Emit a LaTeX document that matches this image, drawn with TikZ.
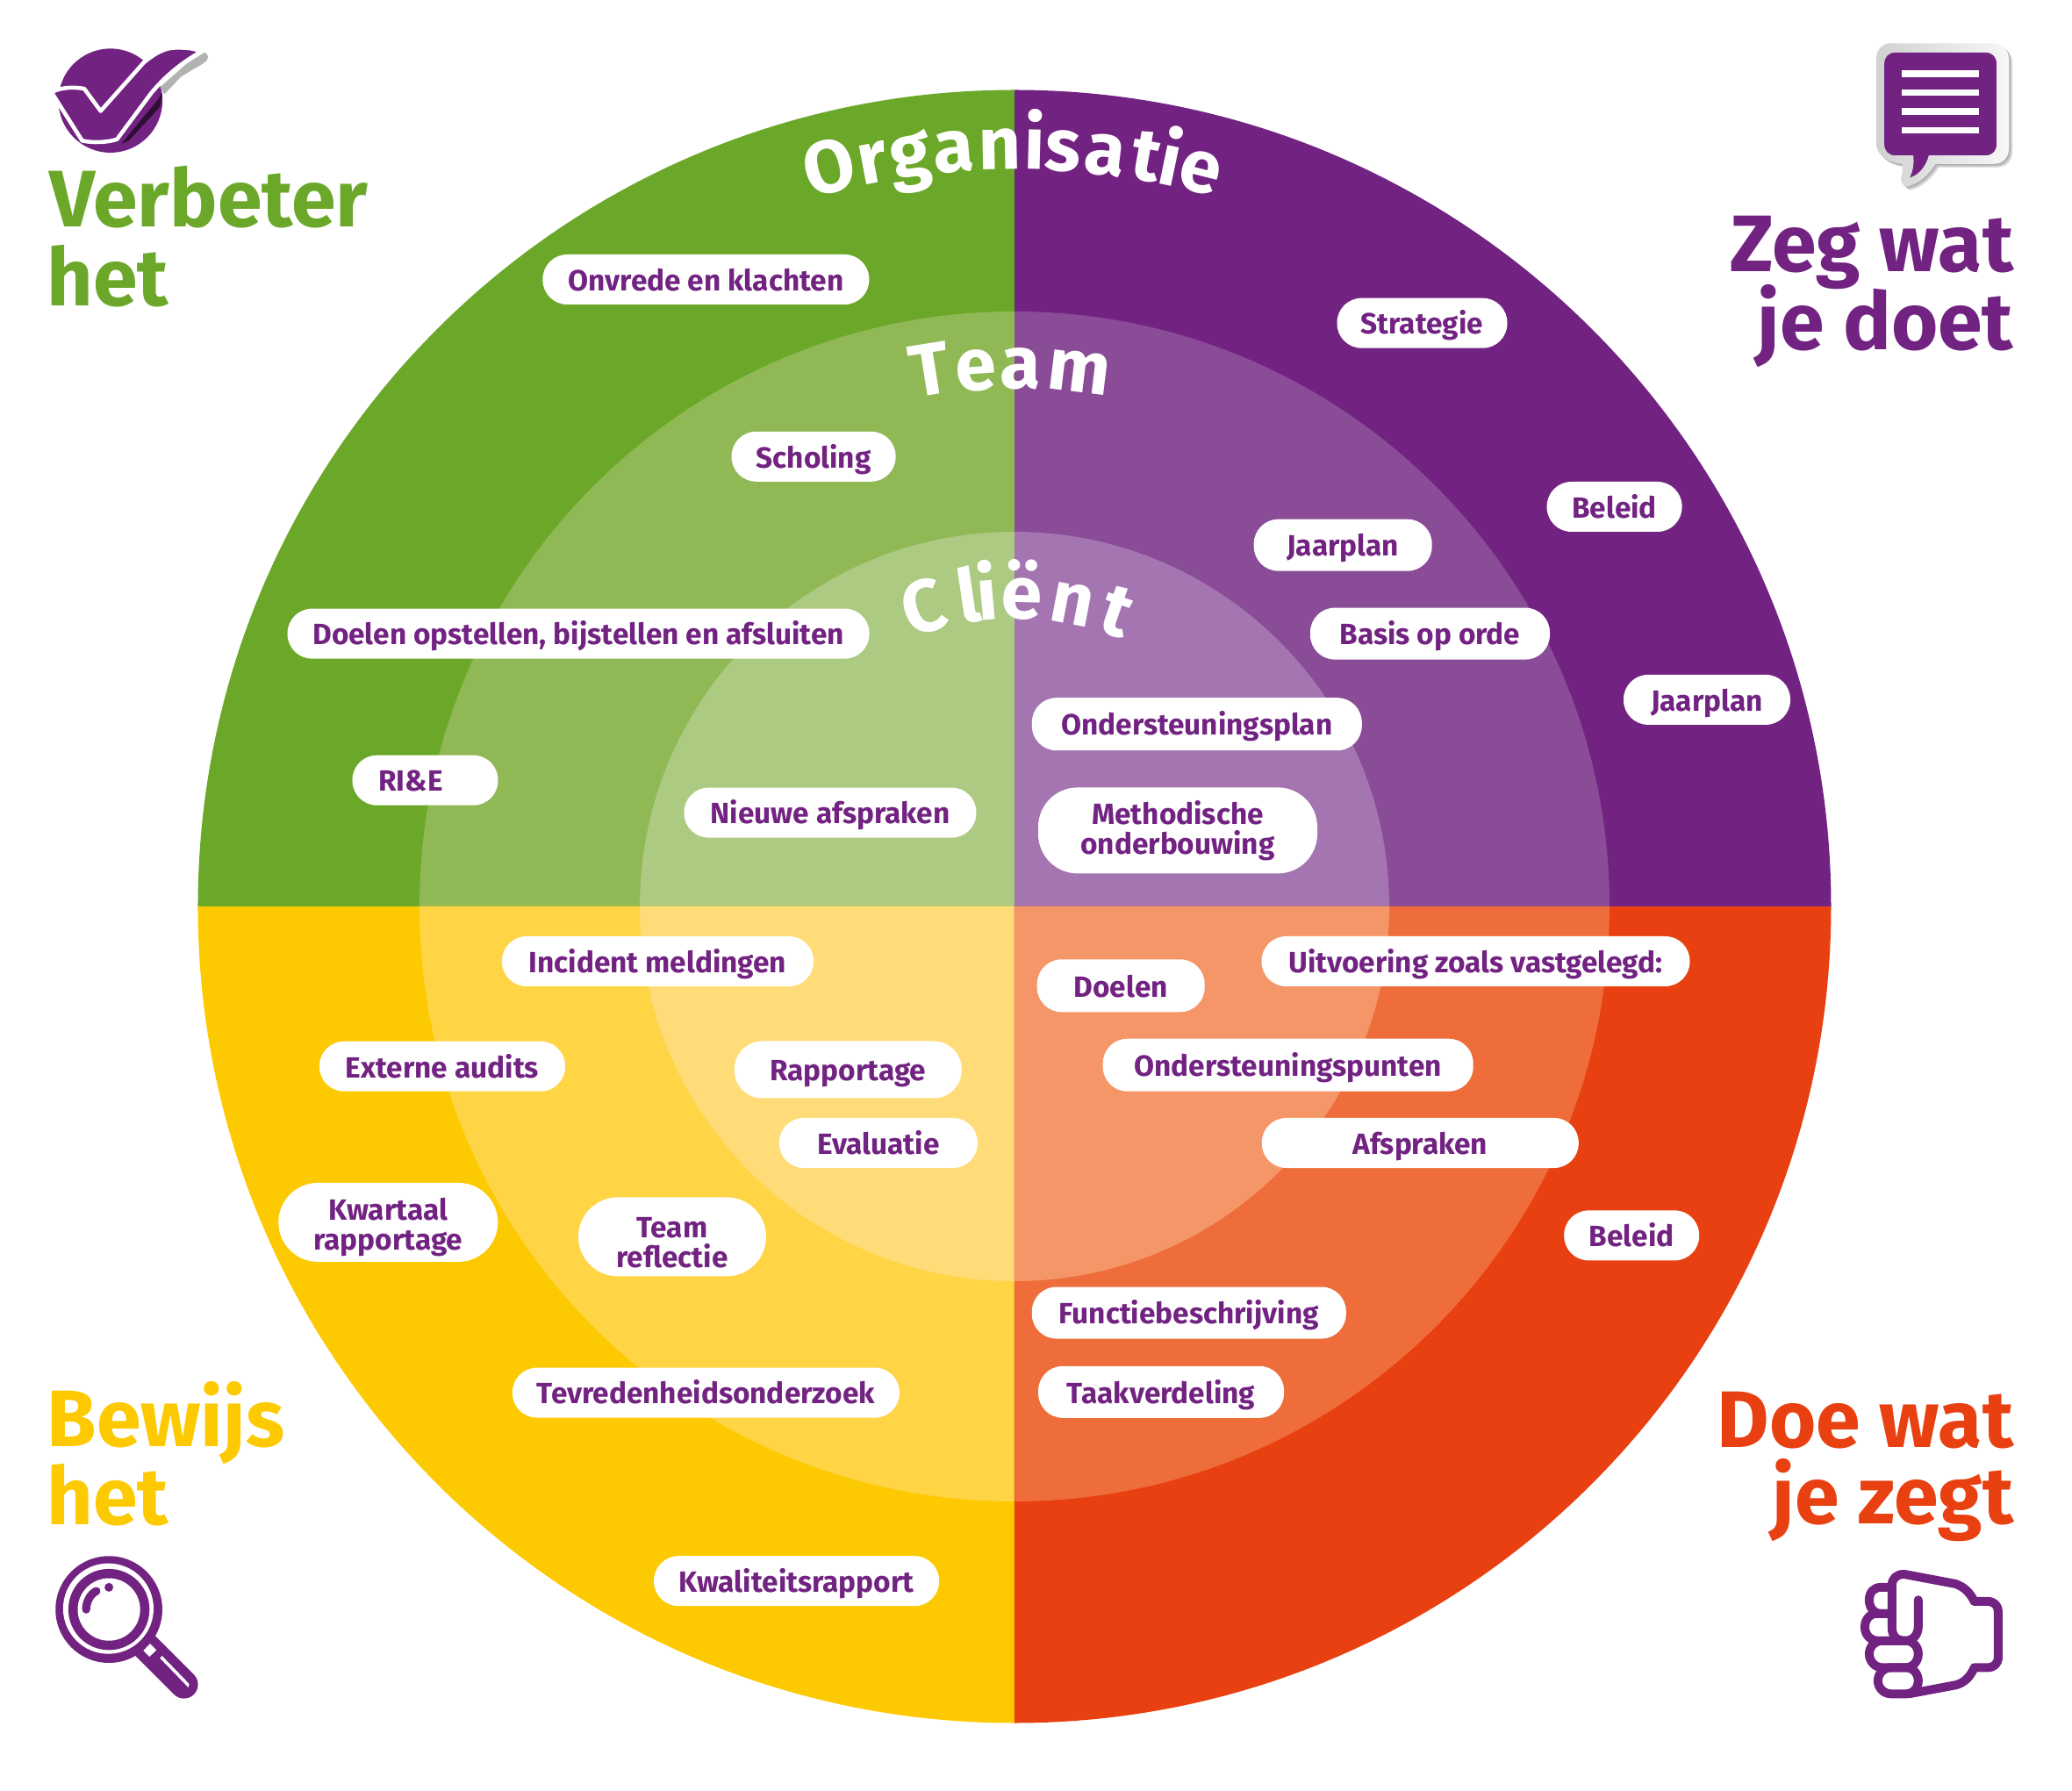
\documentclass[tikz,border=0pt]{standalone}
\usepackage{fontspec}
\setmainfont{Fira Sans}
\usetikzlibrary{positioning}

\definecolor{kwgreen}{HTML}{6BA82A}
\definecolor{kwgreenB}{HTML}{90B855}
\definecolor{kwgreenC}{HTML}{ADCA82}
\definecolor{kwpurple}{HTML}{722382}
\definecolor{kwpurpleB}{HTML}{8A4C97}
\definecolor{kwpurpleC}{HTML}{A475B1}
\definecolor{kwyellow}{HTML}{FDC900}
\definecolor{kwyellowB}{HTML}{FFD445}
\definecolor{kwyellowC}{HTML}{FFDC78}
\definecolor{kwred}{HTML}{E84011}
\definecolor{kwredB}{HTML}{EE6D3A}
\definecolor{kwredC}{HTML}{F59668}

\tikzset{
  pillbase/.style={fill=white, text=kwpurple, inner sep=0pt, align=center,
    font=\fontsize{9.5}{9.6}\selectfont\bfseries},
  pill/.style={pillbase, rounded corners=.28cm, minimum height=.57cm, text height=.32cm, text depth=.064cm},
  pilltwo/.style={pillbase, rounded corners=.45cm, minimum height=.9cm},
  heading/.style={inner sep=0pt, font=\fontsize{26}{26}\selectfont\bfseries},
  bowtext/.style={inner sep=0pt, anchor=base, text=white, font=\fontsize{24}{24}\selectfont\bfseries},
  fiststroke/.style={draw=kwpurple, line width=2.85pt, line join=round, line cap=round},
}

\begin{document}
\begin{tikzpicture}
  \useasboundingbox (-11.56, -10.08) rectangle (12.05, 10.33);

  % quadrants and rings
  \foreach \colA/\colB/\colC/\ang in {kwpurple/kwpurpleB/kwpurpleC/0, kwgreen/kwgreenB/kwgreenC/90, kwyellow/kwyellowB/kwyellowC/180, kwred/kwredB/kwredC/270} {
    \fill[\colA] (0, 0) -- (\ang:9.305) arc (\ang:\ang+90:9.305) -- cycle;
    \fill[\colB] (0, 0) -- (\ang:6.78) arc (\ang:\ang+90:6.78) -- cycle;
    \fill[\colC] (0, 0) -- (\ang:4.27) arc (\ang:\ang+90:4.27) -- cycle;
  }

  % ring titles
  \foreach \ch/\ang [count=\i] in {O/-14.1, r/-10.8, g/-7.9, a/-4.6, n/-1.1, i/1.5, s/3.7, a/6.9, t/10, i/11.8, e/14.2}
    \node[bowtext, rotate=-\ang] (org\i) at (90-\ang:8.40) {\ch};
  \foreach \ch/\ang [count=\i] in {T/-9, e/-4.1, a/0.6, m/6.9}
    \node[bowtext, rotate=-\ang] (team\i) at (90-\ang:5.90) {\ch};
  \foreach \ch/\ang [count=\i] in {C/-16.8, l/-8.4, i/-5, ë/1.4, n/10.8, t/19.2}
    \node[bowtext, rotate=-\ang] (client\i) at (90-\ang:3.28) {\ch};

  % labels
  \node[pill, minimum width=3.72cm] (klachten) at (-3.516, 7.145) {Onvrede en klachten};
  \node[pill, minimum width=1.94cm] (strategie) at (4.645, 6.648) {Strategie};
  \node[pill, minimum width=1.87cm] (scholing) at (-2.289, 5.127) {Scholing};
  \node[pill, minimum width=1.54cm] (beleidA) at (6.836, 4.555) {Beleid};
  \node[pill, minimum width=2.03cm, minimum height=.59cm] (jaarplanA) at (3.742, 4.118) {Jaarplan};
  \node[pill, minimum width=6.63cm] (doelenA) at (-4.969, 3.109) {Doelen opstellen, bijstellen en afsluiten};
  \node[pill, minimum width=2.73cm, minimum height=.59cm] (basis) at (4.735, 3.109) {Basis op orde};
  \node[pill, minimum width=1.90cm] (jaarplanB) at (7.890, 2.356) {Jaarplan};
  \node[pill, minimum width=3.76cm, minimum height=.60cm] (plan) at (2.078, 2.078) {Ondersteuningsplan};
  \node[pill, minimum width=1.66cm] (rie) at (-6.715, 1.438) {RI\&E\hspace*{.33cm}};
  \node[pill, minimum width=3.33cm] (afspraakA) at (-2.100, 1.069) {Nieuwe afspraken};
  \node[pilltwo, minimum width=3.18cm, minimum height=.98cm] (methode) at (1.860, 0.866) {Methodische\\onderbouwing};
  \node[pill, minimum width=3.55cm] (incident) at (-4.065, -0.625) {Incident meldingen};
  \node[pill, minimum width=4.88cm] (uitvoering) at (5.255, -0.625) {Uitvoering zoals vastgelegd:};
  \node[pill, minimum width=1.91cm, minimum height=.60cm] (doelenB) at (1.212, -0.903) {Doelen};
  \node[pill, minimum width=2.80cm] (audits) at (-6.520, -1.822) {Externe audits};
  \node[pill, minimum width=4.22cm, minimum height=.60cm] (punten) at (3.117, -1.807) {Ondersteuningspunten};
  \node[pill, minimum width=2.59cm, minimum height=.65cm, rounded corners=.32cm] (rapportage) at (-1.897, -1.860) {Rapportage};
  \node[pill, minimum width=2.26cm] (evaluatie) at (-1.551, -2.695) {Evaluatie};
  \node[pill, minimum width=3.61cm] (afspraakB) at (4.623, -2.695) {Afspraken};
  \node[pilltwo, minimum width=2.50cm] (kwartaal) at (-7.137, -3.599) {\rule{0pt}{.37cm}Kwartaal\\rapportage};
  \node[pilltwo, minimum width=2.14cm] (reflectie) at (-3.900, -3.764) {\rule{0pt}{.37cm}Team\\reflectie};
  \node[pill, minimum width=1.54cm] (beleidB) at (7.032, -3.749) {Beleid};
  \node[pill, minimum width=3.58cm, minimum height=.59cm] (functie) at (1.988, -4.630) {Functiebeschrijving};
  \node[pill, minimum width=4.41cm] (tevreden) at (-3.516, -5.541) {Tevredenheidsonderzoek};
  \node[pill, minimum width=2.80cm, minimum height=.59cm] (taak) at (1.671, -5.533) {Taakverdeling};
  \node[pill, minimum width=3.25cm] (kwaliteit) at (-2.484, -7.687) {Kwaliteitsrapport};

  % corner titles
  \node[heading, text=kwgreen, anchor=base west] (verbeter) at (-11.00, 7.74) {Verbeter};
  \node[heading, text=kwgreen, anchor=base west] (verbeterhet) at (-11.03, 6.84) {het};
  \node[heading, text=kwpurple, anchor=base east] (zeg) at (11.39, 7.235) {Zeg wat};
  \node[heading, text=kwpurple, anchor=base east] (zegdoet) at (11.39, 6.345) {je doet};
  \node[heading, text=kwyellow, anchor=base west] (bewijs) at (-11.03, -6.15) {Bewijs};
  \node[heading, text=kwyellow, anchor=base west] (bewijshet) at (-11.03, -7.04) {het};
  \node[heading, text=kwred, anchor=base east] (doe) at (11.39, -6.16) {Doe wat};
  \node[heading, text=kwred, anchor=base east] (doezegt) at (11.39, -7.03) {je zegt};

  % check mark
  \begin{scope}[shift={(-11.26, 10.03)}, x=0.00339cm, y=-0.00339cm]
    \fill[kwpurple] (283, 250) circle (175);
    \fill[black!60!kwpurple] (320, 395) -- (440, 250) -- (458, 222) -- (450, 270) -- (345, 385) -- cycle;
    \fill[black!30!white] (450, 205) -- (540, 125) -- (600, 88) .. controls (615, 95) and (615, 110) .. (600, 122) -- (520, 170) -- (465, 228) -- cycle;
    \draw[fill=kwpurple, draw=white, line width=1.3pt, line join=round]
      (85, 222) .. controls (120, 202) and (170, 205) .. (195, 210) -- (250, 285) -- (395, 122)
      .. controls (440, 85) and (470, 72) .. (505, 72) .. controls (530, 72) and (560, 72) .. (588, 85)
      .. controls (520, 125) and (470, 165) .. (420, 225) -- (305, 380)
      .. controls (270, 392) and (220, 392) .. (188, 385) -- cycle;
  \end{scope}

  % speech bubble
  \begin{scope}[shift={(7.94, 10.03)}, x=0.00333cm, y=-0.00333cm]
    \foreach \s in {4, 8, 12}
      \fill[black, opacity=0.12, shift={(\s, \s)}] (615, 58) -- (965, 58) .. controls (1000, 58) and (1020, 85) .. (1020, 115)
        -- (1020, 415) .. controls (1020, 450) and (1000, 472) .. (965, 472) -- (768, 472)
        .. controls (745, 510) and (710, 540) .. (670, 550) .. controls (650, 545) and (645, 525) .. (655, 500) -- (655, 472)
        .. controls (600, 465) and (565, 440) .. (565, 400) -- (565, 115) .. controls (565, 80) and (585, 58) .. (615, 58) -- cycle;
    \shade[left color=black!18, right color=black!3] (615, 58) -- (965, 58) .. controls (1000, 58) and (1020, 85) .. (1020, 115)
      -- (1020, 415) .. controls (1020, 450) and (1000, 472) .. (965, 472) -- (768, 472)
      .. controls (745, 510) and (710, 540) .. (670, 550) .. controls (650, 545) and (645, 525) .. (655, 500) -- (655, 472)
      .. controls (600, 465) and (565, 440) .. (565, 400) -- (565, 115) .. controls (565, 80) and (585, 58) .. (615, 58) -- cycle;
    \fill[kwpurple] (630, 90) -- (940, 90) .. controls (962, 90) and (977, 105) .. (977, 127)
      -- (977, 405) .. controls (977, 427) and (962, 442) .. (940, 442) -- (745, 442)
      .. controls (735, 480) and (710, 510) .. (680, 518) .. controls (692, 495) and (695, 470) .. (692, 442) -- (630, 442)
      .. controls (608, 442) and (593, 427) .. (593, 405) -- (593, 127) .. controls (593, 105) and (608, 90) .. (630, 90) -- cycle;
    \foreach \y in {151, 216, 281, 345}
      \fill[white] (651, \y) rectangle (918, \y+23);
  \end{scope}

  % magnifier
  \begin{scope}[shift={(-11.26, -7.07)}, x=0.00333cm, y=-0.00333cm]
    \draw[kwpurple, line width=9.1pt, line cap=round] (410, 410) -- (540, 540);
    \fill[kwpurple] (283, 283) circle (183);
    \fill[white] (281, 280) circle (155);
    \fill[kwpurple] (283, 283) circle (139);
    \fill[white] (283, 283) circle (107);
    \draw[kwpurple, line width=2.65pt, line cap=round] (205, 283) .. controls (205, 255) and (220, 230) .. (240, 220);
    \fill[kwpurple] (283, 207) circle (15);
    \fill[white] (424, 400) -- (446, 422) -- (422, 445) -- (401, 424) -- cycle;
    \fill[white] (465, 442) -- (558, 538) -- (555, 550) -- (458, 450) -- cycle;
  \end{scope}

  % fist
  \begin{scope}[shift={(9.44, -7.37)}, x=0.00333cm, y=-0.00333cm]
    \draw[fiststroke] (258, 160) -- (258, 250) .. controls (258, 285) and (235, 300) .. (213, 300)
      .. controls (185, 300) and (168, 285) .. (168, 255) -- (168, 110)
      .. controls (168, 85) and (185, 72) .. (210, 72) -- (385, 105)
      .. controls (415, 115) and (435, 135) .. (450, 165) -- (495, 165)
      .. controls (518, 165) and (532, 180) .. (532, 200) -- (532, 355)
      .. controls (532, 378) and (518, 392) .. (495, 392) -- (450, 392)
      .. controls (435, 425) and (415, 445) .. (385, 452) -- (225, 482);
    \draw[fiststroke] (168, 117) -- (130, 117) .. controls (105, 117) and (90, 135) .. (90, 160)
      .. controls (90, 185) and (105, 207) .. (130, 207) -- (168, 207);
    \draw[fiststroke] (168, 207) -- (115, 207) .. controls (90, 207) and (75, 230) .. (75, 253)
      .. controls (75, 280) and (95, 300) .. (120, 300) -- (215, 300);
    \draw[fiststroke] (135, 300) -- (215, 300) .. controls (240, 300) and (258, 320) .. (258, 345)
      .. controls (258, 370) and (240, 392) .. (215, 392) -- (135, 392)
      .. controls (110, 392) and (90, 370) .. (90, 345) .. controls (90, 320) and (110, 300) .. (135, 300) -- cycle;
    \draw[fiststroke] (165, 392) -- (215, 392) .. controls (240, 392) and (258, 412) .. (258, 437)
      .. controls (258, 462) and (240, 482) .. (215, 482) -- (165, 482)
      .. controls (140, 482) and (120, 462) .. (120, 437) .. controls (120, 412) and (140, 392) .. (165, 392) -- cycle;
  \end{scope}
\end{tikzpicture}
\end{document}
